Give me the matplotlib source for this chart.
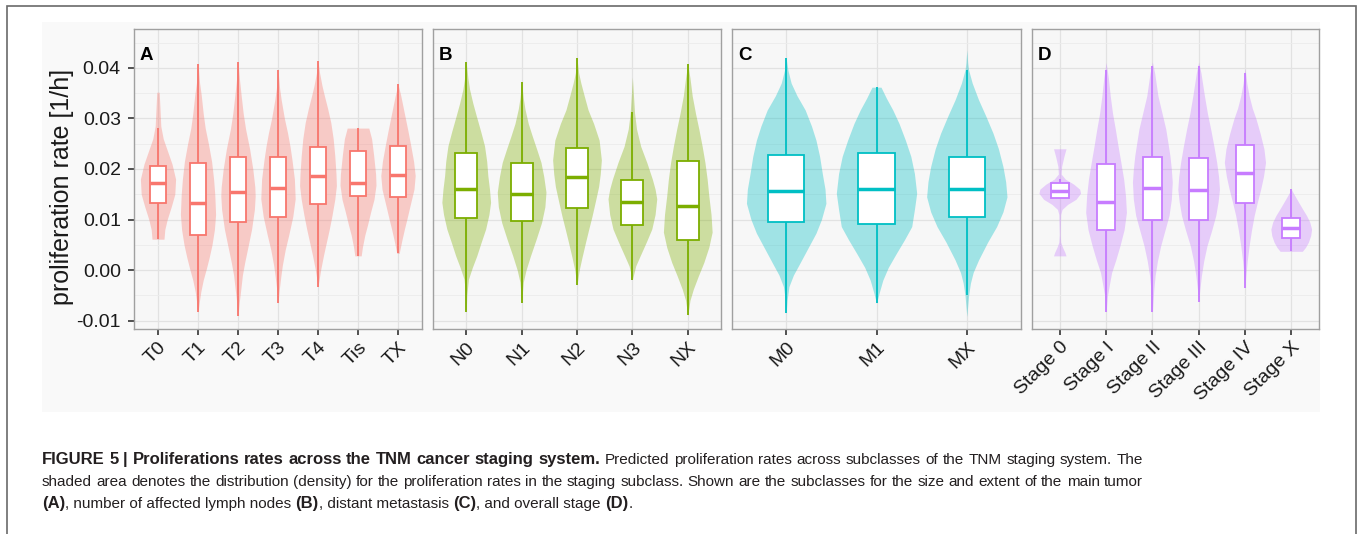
import numpy as np
import matplotlib
matplotlib.use('Agg')
import matplotlib.pyplot as plt
from matplotlib.patches import Rectangle

plt.rcParams['font.family'] = ['Liberation Sans', 'DejaVu Sans']

W, H = 1358, 534

# ---- panel A: tumour size (T) ----
t_cats = ['T0', 'T1', 'T2', 'T3', 'T4', 'Tis', 'TX']
t_lo = [0.0061, -0.0084, -0.0091, -0.0066, -0.0033, 0.0028, 0.0033]
t_q1 = [0.0133, 0.0069, 0.0095, 0.0105, 0.0131, 0.0146, 0.0144]
t_med = [0.0172, 0.0132, 0.0154, 0.0162, 0.0187, 0.0172, 0.0188]
t_q3 = [0.0205, 0.0212, 0.0224, 0.0224, 0.0244, 0.0235, 0.0245]
t_hi = [0.0281, 0.0408, 0.0412, 0.0396, 0.0413, 0.0281, 0.0368]
# violin outline: rate levels and half widths (in category units)
t_vy = [
    [0.0352, 0.0320, 0.0285, 0.0260, 0.0235, 0.0210, 0.0180, 0.0150, 0.0125, 0.0100, 0.0080, 0.0061],
    [0.0408, 0.0370, 0.0347, 0.0310, 0.0281, 0.0250, 0.0215, 0.0180, 0.0149, 0.0110, 0.0080, 0.0050,
     0.0025, 0.0003, -0.0020, -0.0043, -0.0065, -0.0084],
    [0.0412, 0.0375, 0.0345, 0.0310, 0.0279, 0.0240, 0.0200, 0.0165, 0.0147, 0.0120, 0.0081, 0.0050,
     0.0016, -0.0010, -0.0038, -0.0065, -0.0091],
    [0.0396, 0.0360, 0.0337, 0.0300, 0.0271, 0.0245, 0.0218, 0.0180, 0.0141, 0.0106, 0.0070, 0.0040,
     0.0010, -0.0013, -0.0040, -0.0066],
    [0.0413, 0.0390, 0.0365, 0.0345, 0.0320, 0.0292, 0.0260, 0.0226, 0.0190, 0.0167, 0.0140, 0.0108,
     0.0080, 0.0055, 0.0030, 0.0002, -0.0033],
    [0.0281, 0.0260, 0.0228, 0.0190, 0.0168, 0.0140, 0.0116, 0.0090, 0.0069, 0.0045, 0.0028],
    [0.0368, 0.0345, 0.0306, 0.0275, 0.0246, 0.0215, 0.0187, 0.0160, 0.0127, 0.0100, 0.0081, 0.0060,
     0.0041, 0.0033],
]
t_vw = [
    [0.03, 0.05, 0.07, 0.13, 0.24, 0.35, 0.44, 0.42, 0.33, 0.23, 0.17, 0.15],
    [0.0, 0.04, 0.08, 0.13, 0.18, 0.26, 0.34, 0.39, 0.42, 0.44, 0.41, 0.35, 0.28, 0.21, 0.13, 0.07, 0.03, 0.0],
    [0.0, 0.04, 0.08, 0.13, 0.19, 0.29, 0.37, 0.42, 0.43, 0.41, 0.34, 0.26, 0.17, 0.11, 0.07, 0.03, 0.0],
    [0.0, 0.04, 0.08, 0.16, 0.24, 0.30, 0.35, 0.41, 0.43, 0.37, 0.27, 0.18, 0.11, 0.07, 0.03, 0.0],
    [0.0, 0.04, 0.10, 0.16, 0.24, 0.32, 0.38, 0.42, 0.45, 0.46, 0.42, 0.35, 0.28, 0.21, 0.14, 0.07, 0.0],
    [0.27, 0.34, 0.39, 0.44, 0.45, 0.40, 0.32, 0.24, 0.17, 0.11, 0.08],
    [0.0, 0.07, 0.17, 0.25, 0.32, 0.39, 0.43, 0.40, 0.30, 0.22, 0.16, 0.10, 0.05, 0.03],
]

# ---- panel B: lymph nodes (N) ----
n_cats = ['N0', 'N1', 'N2', 'N3', 'NX']
n_lo = [-0.0084, -0.0065, -0.0030, -0.0019, -0.0090]
n_q1 = [0.0102, 0.0098, 0.0122, 0.0089, 0.0059]
n_med = [0.0160, 0.0151, 0.0185, 0.0135, 0.0127]
n_q3 = [0.0231, 0.0211, 0.0242, 0.0178, 0.0215]
n_hi = [0.0411, 0.0372, 0.0419, 0.0312, 0.0408]
n_vy = [
    [0.0411, 0.0380, 0.0358, 0.0330, 0.0306, 0.0275, 0.0246, 0.0215, 0.0187, 0.0160, 0.0134, 0.0110,
     0.0081, 0.0055, 0.0028, 0.0005, -0.0018, -0.0050, -0.0084],
    [0.0372, 0.0340, 0.0319, 0.0290, 0.0266, 0.0240, 0.0213, 0.0185, 0.0154, 0.0125, 0.0094, 0.0060,
     0.0028, 0.0000, -0.0024, -0.0065],
    [0.0419, 0.0390, 0.0370, 0.0345, 0.0317, 0.0290, 0.0257, 0.0218, 0.0190, 0.0165, 0.0135, 0.0106,
     0.0080, 0.0053, 0.0025, 0.0000, -0.0030],
    [0.0382, 0.0345, 0.0310, 0.0279, 0.0245, 0.0213, 0.0180, 0.0160, 0.0141, 0.0110, 0.0081, 0.0055,
     0.0028, 0.0008, -0.0019],
    [0.0408, 0.0380, 0.0345, 0.0310, 0.0279, 0.0245, 0.0213, 0.0180, 0.0147, 0.0110, 0.0075, 0.0045,
     0.0015, -0.0012, -0.0038, -0.0060, -0.0090],
]
n_vw = [
    [0.0, 0.03, 0.06, 0.12, 0.18, 0.26, 0.33, 0.37, 0.39, 0.42, 0.44, 0.41, 0.35, 0.27, 0.19, 0.11, 0.04, 0.01, 0.0],
    [0.0, 0.03, 0.06, 0.12, 0.19, 0.27, 0.35, 0.40, 0.44, 0.42, 0.36, 0.26, 0.16, 0.08, 0.03, 0.0],
    [0.0, 0.03, 0.07, 0.13, 0.20, 0.30, 0.40, 0.44, 0.42, 0.39, 0.33, 0.27, 0.21, 0.15, 0.09, 0.04, 0.0],
    [0.0, 0.02, 0.04, 0.075, 0.15, 0.26, 0.36, 0.41, 0.44, 0.41, 0.35, 0.25, 0.14, 0.06, 0.0],
    [0.0, 0.04, 0.08, 0.14, 0.20, 0.26, 0.31, 0.35, 0.38, 0.42, 0.44, 0.38, 0.29, 0.19, 0.10, 0.04, 0.0],
]

# ---- panel C: metastasis (M) ----
m_cats = ['M0', 'M1', 'MX']
m_lo = [-0.0085, -0.0066, -0.0050]
m_q1 = [0.0095, 0.0092, 0.0105]
m_med = [0.0157, 0.0161, 0.0160]
m_q3 = [0.0228, 0.0231, 0.0223]
m_hi = [0.0419, 0.0362, 0.0396]
m_vy = [
    [0.0419, 0.0395, 0.0370, 0.0345, 0.0317, 0.0285, 0.0257, 0.0225, 0.0191, 0.0160, 0.0132, 0.0100,
     0.0073, 0.0043, 0.0013, -0.0010, -0.0033, -0.0060, -0.0085],
    [0.0362, 0.0340, 0.0317, 0.0290, 0.0257, 0.0225, 0.0191, 0.0152, 0.0120, 0.0086, 0.0060, 0.0033,
     0.0005, -0.0020, -0.0045, -0.0066],
    [0.0436, 0.0410, 0.0396, 0.0370, 0.0337, 0.0305, 0.0271, 0.0240, 0.0205, 0.0175, 0.0145, 0.0115,
     0.0086, 0.0055, 0.0020, -0.0005, -0.0026, -0.0050, -0.0092],
]
m_vw = [
    [0.0, 0.02, 0.055, 0.12, 0.21, 0.28, 0.33, 0.37, 0.40, 0.43, 0.44, 0.39, 0.33, 0.24, 0.15, 0.08, 0.03, 0.01, 0.0],
    [0.05, 0.11, 0.18, 0.25, 0.32, 0.38, 0.42, 0.445, 0.42, 0.39, 0.31, 0.22, 0.13, 0.07, 0.03, 0.0],
    [0.0, 0.01, 0.02, 0.06, 0.13, 0.21, 0.29, 0.35, 0.40, 0.43, 0.445, 0.40, 0.33, 0.23, 0.13, 0.07, 0.04, 0.02, 0.0],
]

# ---- panel D: overall stage ----
s_cats = ['Stage 0', 'Stage I', 'Stage II', 'Stage III', 'Stage IV', 'Stage X']
s_lo = [0.0142, -0.0084, -0.0084, -0.0063, -0.0036, 0.0037]
s_q1 = [0.0142, 0.0079, 0.0100, 0.0099, 0.0133, 0.0063]
s_med = [0.0157, 0.0134, 0.0162, 0.0158, 0.0193, 0.0083]
s_q3 = [0.0172, 0.0209, 0.0224, 0.0222, 0.0248, 0.0103]
s_hi = [0.0180, 0.0397, 0.0403, 0.0403, 0.0390, 0.0160]
s_vy = [
    [0.0240, 0.0225, 0.0205, 0.0190, 0.0180, 0.0170, 0.0160, 0.0152, 0.0140, 0.0130, 0.0120, 0.0110,
     0.0070, 0.0055, 0.0045, 0.0035, 0.0028],
    [0.0411, 0.0380, 0.0345, 0.0310, 0.0279, 0.0245, 0.0213, 0.0180, 0.0147, 0.0114, 0.0080, 0.0048,
     0.0020, -0.0005, -0.0030, -0.0051, -0.0084],
    [0.0412, 0.0390, 0.0345, 0.0310, 0.0279, 0.0250, 0.0226, 0.0200, 0.0174, 0.0140, 0.0108, 0.0078,
     0.0048, 0.0018, -0.0011, -0.0040, -0.0084],
    [0.0412, 0.0390, 0.0345, 0.0310, 0.0279, 0.0245, 0.0213, 0.0185, 0.0160, 0.0135, 0.0108, 0.0078,
     0.0048, 0.0018, -0.0011, -0.0035, -0.0063],
    [0.0400, 0.0370, 0.0345, 0.0320, 0.0299, 0.0270, 0.0240, 0.0213, 0.0185, 0.0160, 0.0135, 0.0108,
     0.0078, 0.0048, 0.0018, -0.0011, -0.0036],
    [0.0160, 0.0150, 0.0134, 0.0120, 0.0108, 0.0095, 0.0081, 0.0068, 0.0055, 0.0045, 0.0037],
]
s_vw = [
    [0.135, 0.09, 0.04, 0.03, 0.12, 0.30, 0.43, 0.45, 0.35, 0.17, 0.05, 0.02, 0.01, 0.02, 0.06, 0.11, 0.135],
    [0.0, 0.05, 0.09, 0.14, 0.20, 0.26, 0.32, 0.38, 0.42, 0.44, 0.39, 0.30, 0.21, 0.12, 0.07, 0.03, 0.0],
    [0.0, 0.05, 0.12, 0.21, 0.29, 0.34, 0.38, 0.41, 0.43, 0.41, 0.36, 0.27, 0.18, 0.11, 0.06, 0.03, 0.0],
    [0.0, 0.05, 0.125, 0.19, 0.26, 0.33, 0.39, 0.43, 0.45, 0.42, 0.37, 0.28, 0.18, 0.11, 0.06, 0.03, 0.0],
    [0.0, 0.04, 0.09, 0.16, 0.24, 0.33, 0.41, 0.445, 0.40, 0.34, 0.27, 0.20, 0.14, 0.09, 0.05, 0.02, 0.0],
    [0.0, 0.06, 0.16, 0.25, 0.33, 0.40, 0.44, 0.42, 0.37, 0.31, 0.24],
]

y_ticks = [-0.01, 0.00, 0.01, 0.02, 0.03, 0.04]
y_minor = [-0.005, 0.005, 0.015, 0.025, 0.035, 0.045]

fig = plt.figure(figsize=(W / 100, H / 100), dpi=100)
fig.patch.set_facecolor('white')


def px_rect(x0, y0, x1, y1, **kw):
    # rectangle given in pixel coords, origin top-left
    r = Rectangle((x0 / W, 1 - y1 / H), (x1 - x0) / W, (y1 - y0) / H,
                  transform=fig.transFigure, **kw)
    fig.add_artist(r)
    return r


# outer frame and the shaded plot area
px_rect(7, 6, 1356, 560, fill=False, ec='#6a6a6a', lw=1.2, zorder=0)
px_rect(42, 22, 1320, 412, fc='#f9f9f9', ec='none', zorder=0)


def panel(x0, x1, cats, lo, q1, med, q3, hi, vy, vw, color, letter, first=False):
    ax = fig.add_axes([x0 / W, 1 - 329 / H, (x1 - x0) / W, 300 / H])
    ax.set_facecolor('#f7f7f7')
    n = len(cats)
    for i in range(n):
        y = np.array(vy[i])
        w = np.array(vw[i])
        ax.fill_betweenx(y, i - w, i + w, color=color, alpha=0.35, lw=0, zorder=2)
        ax.vlines(i, lo[i], q1[i], color=color, lw=1.3, zorder=3)
        ax.vlines(i, q3[i], hi[i], color=color, lw=1.3, zorder=3)
        ax.add_patch(Rectangle((i - 0.2, q1[i]), 0.4, q3[i] - q1[i],
                               fc='white', ec=color, lw=1.3, zorder=4))
        ax.hlines(med[i], i - 0.2, i + 0.2, color=color, lw=2.5, zorder=5)

    ax.set_xlim(-0.6, n - 0.4)
    ax.set_ylim(-0.01168, 0.04772)
    ax.set_xticks(range(n))
    ax.set_xticklabels(cats, rotation=45, ha='right', rotation_mode='anchor', fontsize=14)
    ax.set_yticks(y_ticks)
    ax.set_yticks(y_minor, minor=True)
    ax.set_yticklabels(['%.2f' % t for t in y_ticks], fontsize=14)
    ax.grid(which='major', color='#e2e2e2', lw=0.9)
    ax.grid(which='minor', axis='y', color='#ececec', lw=0.6)
    ax.set_axisbelow(True)
    ax.tick_params(axis='x', which='major', length=4, width=1.2, color='#333333',
                   labelcolor='#1a1a1a', pad=3)
    ax.tick_params(axis='y', which='major', length=4.5, width=1.2, color='#333333',
                   labelcolor='#1a1a1a', pad=5)
    ax.tick_params(axis='y', which='minor', length=0)
    if not first:
        ax.tick_params(axis='y', left=False, labelleft=False)
    for s in ax.spines.values():
        s.set_color('#a0a0a0')
        s.set_linewidth(1.0)
    ax.text(6 / (x1 - x0), 269 / 300, letter, transform=ax.transAxes,
            fontsize=13.5, fontweight='bold', va='baseline', ha='left', zorder=6)
    return ax


panel(134, 422, t_cats, t_lo, t_q1, t_med, t_q3, t_hi, t_vy, t_vw, '#F8766D', 'A', first=True)
panel(433, 721, n_cats, n_lo, n_q1, n_med, n_q3, n_hi, n_vy, n_vw, '#7CAE00', 'B')
panel(732, 1021, m_cats, m_lo, m_q1, m_med, m_q3, m_hi, m_vy, m_vw, '#00BFC4', 'C')
panel(1032, 1319, s_cats, s_lo, s_q1, s_med, s_q3, s_hi, s_vy, s_vw, '#C77CFF', 'D')

fig.text(62 / W, 1 - 187 / H, 'proliferation rate [1/h]', rotation=90,
         fontsize=18, ha='center', va='center', color='#1a1a1a')

# caption: mixed bold / regular runs, first two lines set justified
renderer = fig.canvas.get_renderer()
cap_size = {'normal': 11.0, 'bold': 12.0}
cap_color = '#231f20'
cap_left, cap_right = 42, 1143


def advance(s, weight):
    # horizontal advance of s, spaces included
    a = fig.text(0, 0, 'x' + s + 'x', fontsize=cap_size[weight], fontweight=weight)
    b = fig.text(0, 0, 'xx', fontsize=cap_size[weight], fontweight=weight)
    w = a.get_window_extent(renderer).width - b.get_window_extent(renderer).width
    a.remove()
    b.remove()
    return w


def put(s, weight, x, y):
    fig.text(x / W, 1 - y / H, s, fontsize=cap_size[weight], fontweight=weight,
             color=cap_color, va='baseline', ha='left')


def caption_justified(runs, y):
    words = [(w, weight) for s, weight in runs for w in s.split()]
    widths = [advance(w, weight) for w, weight in words]
    gap = (cap_right - cap_left - sum(widths)) / (len(words) - 1)
    x = cap_left
    for (w, weight), wd in zip(words, widths):
        put(w, weight, x, y)
        x += wd + gap


def caption_line(runs, y):
    x = cap_left
    for s, weight in runs:
        put(s, weight, x, y)
        x += advance(s, weight)


caption_justified([('FIGURE 5 | Proliferations rates across the TNM cancer staging system.', 'bold'),
                   ('Predicted proliferation rates across subclasses of the TNM staging system. The', 'normal')],
                  464)
caption_justified([('shaded area denotes the distribution (density) for the proliferation rates in the staging '
                    'subclass. Shown are the subclasses for the size and extent of the main tumor', 'normal')],
                  486)
caption_line([('(A)', 'bold'), (', number of affected lymph nodes ', 'normal'),
              ('(B)', 'bold'), (', distant metastasis ', 'normal'),
              ('(C)', 'bold'), (', and overall stage ', 'normal'),
              ('(D)', 'bold'), ('.', 'normal')],
             508)

fig.savefig('out.png', dpi=100, facecolor=fig.get_facecolor())
